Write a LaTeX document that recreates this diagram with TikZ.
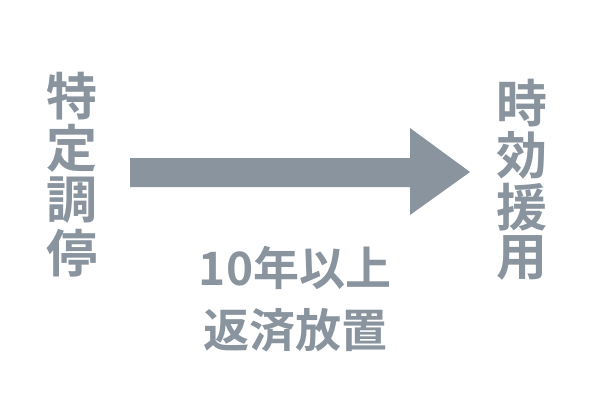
\documentclass[tikz,border=0pt]{standalone}
\usepackage{fontspec}
\setmainfont{Noto Sans CJK JP}[BoldFont={Noto Sans CJK JP Bold}]
\definecolor{gr}{RGB}{138,148,158}
\begin{document}
\begin{tikzpicture}[x=1pt,y=-1pt,
  vchar/.style={text=gr,font=\fontsize{51}{51}\selectfont\bfseries,inner sep=0pt,anchor=center},
  hlab/.style={text=gr,font=\fontsize{46}{46}\selectfont\bfseries,inner sep=0pt,anchor=center}]
\useasboundingbox (0,0) rectangle (600,400);
\node[vchar] (l1) at (72,96) {特};
\node[vchar] (l2) at (72,148) {定};
\node[vchar] (l3) at (72,200) {調};
\node[vchar] (l4) at (72,253) {停};
\node[vchar] (r1) at (522,103) {時};
\node[vchar] (r2) at (522,155) {効};
\node[vchar] (r3) at (522,207) {援};
\node[vchar] (r4) at (522,258) {用};
\fill[gr] (130,158) -- (410,158) -- (410,128) -- (470,172) -- (410,215) -- (410,187) -- (130,187) -- cycle;
\node[hlab] (b1) at (295,268) {10年以上};
\node[hlab] (b2) at (295,330) {返済放置};
\end{tikzpicture}
\end{document}
